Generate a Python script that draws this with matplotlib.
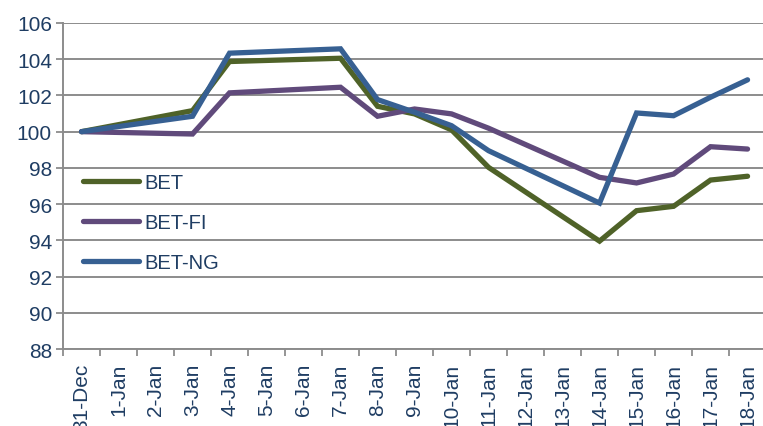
import matplotlib.pyplot as plt
import numpy as np

plt.rcParams['font.family'] = ['Liberation Sans', 'DejaVu Sans']

dates = ['31-Dec', '1-Jan', '2-Jan', '3-Jan', '4-Jan', '5-Jan', '6-Jan', '7-Jan',
         '8-Jan', '9-Jan', '10-Jan', '11-Jan', '12-Jan', '13-Jan', '14-Jan',
         '15-Jan', '16-Jan', '17-Jan', '18-Jan']

# None = no trading day, the line just bridges over it
bet = [100.0, None, None, 101.16, 103.87, None, None, 104.05, 101.40, 100.98,
       100.10, 98.03, None, None, 93.96, 95.64, 95.88, 97.33, 97.54]
bet_fi = [100.0, None, None, 99.87, 102.14, None, None, 102.45, 100.85, 101.25,
          100.98, 100.19, None, None, 97.48, 97.17, 97.66, 99.17, 99.04]
bet_ng = [100.0, None, None, 100.85, 104.33, None, None, 104.57, 101.77, 101.07,
          100.33, 98.95, None, None, 96.06, 101.03, 100.88, 101.90, 102.86]

series = [('BET', bet, '#4F6228'), ('BET-FI', bet_fi, '#604A7B'), ('BET-NG', bet_ng, '#376092')]

text_col = '#1F3D63'
grid_col = '#8C8C8C'

fig = plt.figure(figsize=(7.63, 4.27), dpi=100)
ax = fig.add_axes([0.0826, 0.180, 0.9214, 0.764])

for name, vals, col in series:
    xs = [i for i, v in enumerate(vals) if v is not None]
    ys = [v for v in vals if v is not None]
    ax.plot(xs, ys, color=col, linewidth=3.8, label=name, solid_capstyle='round',
            solid_joinstyle='miter', zorder=3)

ax.set_ylim(88, 106)
ax.set_yticks(np.arange(88, 107, 2))
ax.set_xlim(-0.5, len(dates) - 0.5)
ax.set_xticks(np.arange(-0.5, len(dates), 1.0))
ax.set_xticklabels([])
ax.set_xticks(np.arange(len(dates)), minor=True)
ax.set_xticklabels(dates, minor=True, rotation=90, fontsize=15, color=text_col)
ax.tick_params(axis='x', which='minor', length=0, pad=10)
ax.tick_params(axis='x', which='major', length=5, width=1.3, color=grid_col)
ax.tick_params(axis='y', length=5, width=1.3, color=grid_col, labelsize=15,
               labelcolor=text_col, pad=3)

ax.grid(True, axis='y', color=grid_col, linewidth=1.4)
ax.set_axisbelow(True)
for s in ['top', 'right']:
    ax.spines[s].set_visible(False)
for s in ['left', 'bottom']:
    ax.spines[s].set_color(grid_col)
    ax.spines[s].set_linewidth(1.4)

leg = ax.legend(loc='upper left', bbox_to_anchor=(0.028, 0.54), frameon=False,
                fontsize=14.5, handlelength=2.8, handletextpad=0.25, labelspacing=1.05,
                borderaxespad=0, borderpad=0)
for t in leg.get_texts():
    t.set_color(text_col)

fig.savefig('out.png', dpi=100)
